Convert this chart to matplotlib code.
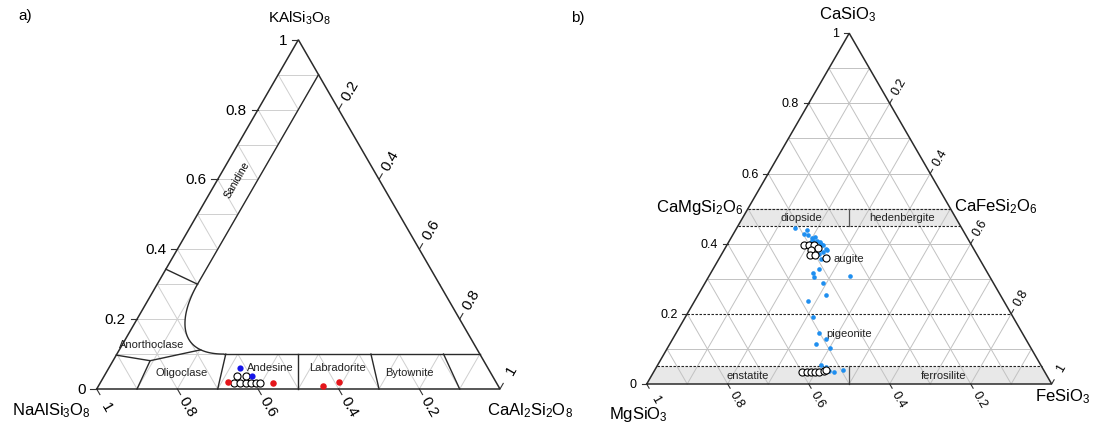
import numpy as np
import matplotlib
matplotlib.use('Agg')
import matplotlib.pyplot as plt
from matplotlib.patches import Polygon

plt.rcParams['font.family'] = ['Liberation Sans', 'DejaVu Sans']
plt.rcParams['mathtext.fontset'] = 'custom'
plt.rcParams['mathtext.rm'] = 'Liberation Sans'
plt.rcParams['mathtext.it'] = 'Liberation Sans:italic'

H = np.sqrt(3) / 2

# ---- a) feldspar: molar fractions of CaAl2Si2O8 (an) and KAlSi3O8 (or)
fsp_open_an = [0.331, 0.346, 0.360, 0.373, 0.387, 0.397, 0.331, 0.351]
fsp_open_or = [0.018, 0.018, 0.018, 0.018, 0.018, 0.018, 0.036, 0.036]
fsp_blue_an = [0.326, 0.366]
fsp_blue_or = [0.059, 0.036]
fsp_red_an = [0.316, 0.430, 0.556, 0.592]
fsp_red_or = [0.021, 0.016, 0.009, 0.019]

# plagioclase field limits, An/(An+Ab)
plag_limits = [0.3, 0.5, 0.7, 0.9]

# ---- b) pyroxene: fractions of CaSiO3 (wo) and FeSiO3 (fs)
px_blue_wo = [0.445, 0.438, 0.429, 0.426, 0.416, 0.419, 0.409, 0.405, 0.400,
              0.397, 0.386, 0.383, 0.376, 0.371, 0.357, 0.405, 0.409,
              0.329, 0.316, 0.305, 0.309, 0.289, 0.255, 0.238, 0.191, 0.145,
              0.127, 0.114, 0.104,
              0.055, 0.048, 0.038, 0.035, 0.040]
px_blue_fs = [0.143, 0.178, 0.173, 0.186, 0.201, 0.205, 0.216, 0.225, 0.231,
              0.238, 0.249, 0.253, 0.247, 0.240, 0.253, 0.204, 0.206,
              0.260, 0.252, 0.260, 0.348, 0.291, 0.314, 0.280, 0.315, 0.353,
              0.378, 0.360, 0.401,
              0.404, 0.419, 0.431, 0.446, 0.464]
px_open_wo = [0.397, 0.397, 0.395, 0.388, 0.383, 0.369, 0.367, 0.359,
              0.035, 0.035, 0.033, 0.033, 0.035, 0.038, 0.040]
px_open_fs = [0.189, 0.202, 0.215, 0.229, 0.215, 0.218, 0.232, 0.264,
              0.366, 0.378, 0.389, 0.400, 0.409, 0.418, 0.422]

tick_vals = [0, 0.2, 0.4, 0.6, 0.8, 1]


def tern(b, c):
    # b: right vertex fraction, c: top vertex fraction
    b = np.asarray(b, float)
    c = np.asarray(c, float)
    return b + c / 2, c * H


FW, FH = 1094, 427
fig = plt.figure(figsize=(FW / 100, FH / 100), dpi=100)


def make_ax(px0, px1, ox, oy, scale):
    ax = fig.add_axes([px0 / FW, 0, (px1 - px0) / FW, 1])
    ax.set_xlim((px0 - ox) / scale, (px1 - ox) / scale)
    ax.set_ylim((oy - FH) / scale, oy / scale)
    ax.axis('off')
    return ax


def grid(ax, color, lw, skip_c=()):
    for i in range(1, 10):
        v = i / 10
        if i not in skip_c:
            ax.plot(*tern([0, 1 - v], [v, v]), color=color, lw=lw, zorder=2)
        ax.plot(*tern([v, v], [0, 1 - v]), color=color, lw=lw, zorder=2)
        ax.plot(*tern([1 - v, 0], [0, 1 - v]), color=color, lw=lw, zorder=2)


def axes_ticks(ax, tl, d, fs, color='#333333'):
    for v in tick_vals:
        lab = f'{v:g}'
        # left side: top-vertex fraction
        x, y = tern(0, v)
        ax.plot([x, x - tl], [y, y], color=color, lw=0.8)
        ax.text(x - tl - 0.012, y, lab, ha='right', va='center', fontsize=fs)
        # bottom: left-vertex fraction (1 .. 0.2)
        if v < 1:
            x, y = tern(v, 0)
            dx, dy = 0.5, -H
            ax.plot([x, x + tl * dx], [y, y + tl * dy], color=color, lw=0.8)
            ax.text(x + d * dx, y + d * dy, f'{1 - v:g}', ha='center',
                    va='center', rotation=-60, fontsize=fs)
        # right side: right-vertex fraction (0.2 .. 1)
        if v > 0:
            x, y = tern(v, 1 - v)
            dx, dy = 0.5, H
            ax.plot([x, x + tl * dx], [y, y + tl * dy], color=color, lw=0.8)
            ax.text(x + d * 1.15 * dx, y + d * 1.15 * dy, lab, ha='center',
                    va='center', rotation=60, fontsize=fs)


def outline(ax):
    ax.plot(*tern([0, 1, 0, 0], [0, 0, 1, 0]), color='#2a2a2a', lw=1.1,
            zorder=5, solid_joinstyle='miter')


# ================= a) feldspar ==================
axa = make_ax(0, 597, 96.7, 390, 403.3)
grid(axa, '#cfcfcf', 0.7)

# curved Anorthoclase/Sanidine limit (cubic bezier), in cartesian coords
P0 = np.array(tern(0.1, 0.3))
P3 = np.array(tern(0.265, 0.1))
C1 = P0 + 0.09 * np.array([-0.5, -H])
C2 = P3 - 0.12 * np.array([1.0, 0.0])


def bez(t):
    t = np.asarray(t)[:, None]
    return ((1 - t) ** 3) * P0 + 3 * ((1 - t) ** 2) * t * C1 + \
        3 * (1 - t) * t ** 2 * C2 + t ** 3 * P3


curve = bez(np.linspace(0, 1, 60))

# white interior (no grid there)
interior = [tern(0.9, 0.1), tern(0.1, 0.9), tern(0.1, 0.3)]
interior += [tuple(p) for p in curve] + [tern(0.9, 0.1)]
axa.add_patch(Polygon(interior, closed=True, fc='white', ec='none', zorder=3))

lc = dict(color='#2a2a2a', lw=1.0, zorder=4)
axa.plot(*tern([0.1, 0.1], [0.9, 0.3]), **lc)
axa.plot(*tern([0, 0.1], [0.343, 0.3]), **lc)
axa.plot(curve[:, 0], curve[:, 1], **lc)
axa.plot(*tern([0.265, 0.9], [0.1, 0.1]), **lc)
pj = bez([0.8])[0]
xj, yj = tern([0, 0.092], [0.097, 0.081])
axa.plot(list(xj) + [pj[0]], list(yj) + [pj[1]], **lc)
axa.plot(*tern([0.092, 0.1], [0.081, 0]), **lc)
for r in plag_limits:
    axa.plot(*tern([r, r * 0.9], [0, 0.1]), **lc)
outline(axa)
axes_ticks(axa, 0.016, 0.05, 11)

axa.text(0.347, 0.521, 'Sanidine', rotation=60, fontsize=7.5, ha='center',
         va='center', zorder=6)
for name, x, y in [('Anorthoclase', 0.136, 0.112), ('Oligoclase', 0.211, 0.043),
                   ('Andesine', 0.43, 0.055), ('Labradorite', 0.597, 0.055),
                   ('Bytownite', 0.775, 0.043)]:
    axa.text(x, y, name, fontsize=8, ha='center', va='center', zorder=6,
             color='#222222')

axa.scatter(*tern(fsp_open_an, fsp_open_or), s=26, facecolor='white',
            edgecolor='black', lw=0.8, zorder=7)
axa.scatter(*tern(fsp_blue_an, fsp_blue_or), s=20, color='#1515e8', lw=0,
            zorder=8)
axa.scatter(*tern(fsp_red_an, fsp_red_or), s=22, color='#e4161b', lw=0,
            zorder=8)

axa.text(0.504, 0.922, r'KAlSi$_3$O$_8$', fontsize=11, ha='center', va='center')
axa.text(-0.111, -0.052, r'NaAlSi$_3$O$_8$', fontsize=12, ha='center',
         va='center')
axa.text(1.075, -0.052, r'CaAl$_2$Si$_2$O$_8$', fontsize=12, ha='center',
         va='center')

# ================= b) pyroxene ==================
axb = make_ax(597, 1094, 646.7, 385, 405)
for c0, c1 in [(0, 0.05), (0.45, 0.5)]:
    axb.add_patch(Polygon([tern(0, c0), tern(1 - c0, c0), tern(1 - c1, c1),
                           tern(0, c1)], closed=True, fc='#e8e8e8', ec='none',
                          zorder=1))
grid(axb, '#c2c2c2', 0.7, skip_c=(2,))
for c in [0.05, 0.2, 0.45, 0.5]:
    axb.plot(*tern([0, 1 - c], [c, c]), color='#222222', lw=0.8,
             ls=(0, (2.2, 1.4)), zorder=3)
for c0, c1 in [(0, 0.05), (0.45, 0.5)]:
    axb.plot(*tern([(1 - c0) / 2, (1 - c1) / 2], [c0, c1]), color='#555555',
             lw=0.9, zorder=3)
outline(axb)
axes_ticks(axb, 0.012, 0.042, 9)

for name, x, y, ha in [('diopside', 0.383, 0.412, 'center'),
                       ('hedenbergite', 0.63, 0.412, 'center'),
                       ('augite', 0.461, 0.312, 'left'),
                       ('pigeonite', 0.444, 0.126, 'left'),
                       ('enstatite', 0.249, 0.022, 'center'),
                       ('ferrosilite', 0.732, 0.022, 'center')]:
    axb.text(x, y, name, fontsize=8, ha=ha, va='center', zorder=6,
             color='#222222')

axb.scatter(*tern(px_blue_fs, px_blue_wo), s=11, color='#1f8ff0', lw=0,
            zorder=7)
axb.scatter(*tern(px_open_fs, px_open_wo), s=26, facecolor='white',
            edgecolor='black', lw=0.8, zorder=8)

axb.text(0.497, 0.914, r'CaSiO$_3$', fontsize=12, ha='center', va='center')
axb.text(-0.021, -0.072, r'MgSiO$_3$', fontsize=12, ha='center', va='center')
axb.text(1.026, -0.03, r'FeSiO$_3$', fontsize=12, ha='center', va='center')
axb.text(0.1316, 0.4395, r'CaMgSi$_2$O$_6$', fontsize=12, ha='center',
         va='center')
axb.text(0.8625, 0.4395, r'CaFeSi$_2$O$_6$', fontsize=12, ha='center',
         va='center')

fig.text(25 / FW, 1 - 16 / FH, 'a)', fontsize=11, ha='center', va='center')
fig.text(578 / FW, 1 - 18 / FH, 'b)', fontsize=11, ha='center', va='center')

fig.savefig('out.png', dpi=100)
